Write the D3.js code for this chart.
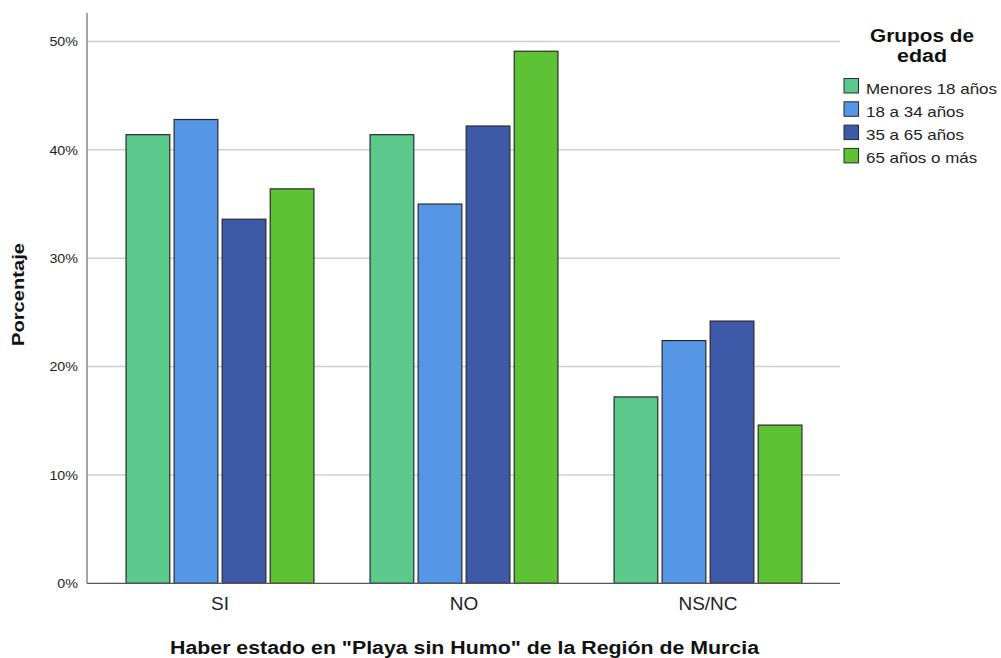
<!DOCTYPE html>
<html><head><meta charset="utf-8">
<script src="https://cdn.jsdelivr.net/npm/d3@7"></script>
<style>body{margin:0;background:#fff;}svg{display:block;font-family:"Liberation Sans",Arial,sans-serif;}</style>
</head><body><svg id="c" width="1001" height="658"></svg>
<script>
const categories = ["SI","NO","NS/NC"];
const seriesNames = ["Menores 18 años","18 a 34 años","35 a 65 años","65 años o más"];
const menores18 = [41.4, 41.4, 17.2];
const de18a34 = [42.8, 35.0, 22.4];
const de35a65 = [33.6, 42.2, 24.2];
const mas65 = [36.4, 49.1, 14.6];
const colors = ["#5bc98b","#5596e6","#3d59a8","#5ec235"];
const yTicks = [0,10,20,30,40,50];
const seriesValues = [menores18, de18a34, de35a65, mas65];

const svg = d3.select("#c");
const y = d3.scaleLinear().domain([0,50]).range([583.3,41.5]);
const x0 = d3.scaleBand().domain(categories).range([98,830]).paddingInner(0.23).paddingOuter(0.115);
const x1 = d3.scaleBand().domain(seriesNames).range([0,x0.bandwidth()]).paddingInner(0.09);

function stretch(sel, f){
  sel.each(function(){ const L=this.getComputedTextLength(); d3.select(this).attr("textLength",L*f).attr("lengthAdjust","spacingAndGlyphs"); });
}

// grid
svg.append("g").selectAll("line").data(yTicks.filter(d=>d>0)).join("line")
  .attr("x1",87).attr("x2",840).attr("y1",d=>y(d)).attr("y2",d=>y(d))
  .attr("stroke","#d0d0d0").attr("stroke-width",1.5);

// bars
const data = [];
categories.forEach((c,i)=>seriesNames.forEach((s,j)=>data.push({c,s,j,v:seriesValues[j][i]})));
svg.append("g").selectAll("rect").data(data).join("rect")
  .attr("x",d=>x0(d.c)+x1(d.s)).attr("width",x1.bandwidth())
  .attr("y",d=>y(d.v)).attr("height",d=>y(0)-y(d.v))
  .attr("fill",d=>colors[d.j]).attr("stroke","#2a2a2a").attr("stroke-width",1.2);

// y axis
const ya = svg.append("g").attr("transform","translate(87,0)")
  .call(d3.axisLeft(y).tickValues(yTicks).tickFormat(d=>d+"%").tickSize(0).tickPadding(9));
ya.select(".domain").remove();
ya.selectAll("text").attr("font-size",13).attr("fill","#222").attr("font-family","Liberation Sans, Arial, sans-serif");
stretch(ya.selectAll("text"), 1.1);
svg.append("line").attr("x1",87).attr("x2",87).attr("y1",13).attr("y2",583.3).attr("stroke","#888").attr("stroke-width",1.5);

// x axis
const xa = svg.append("g").attr("transform","translate(0,583.3)")
  .call(d3.axisBottom(x0).tickSize(0).tickPadding(14));
xa.select(".domain").attr("d","M87,0H840").attr("stroke","#555").attr("stroke-width",1.2);
xa.selectAll("text").attr("font-size",19).attr("fill","#222").attr("font-family","Liberation Sans, Arial, sans-serif").attr("dy","0.68em");
stretch(xa.selectAll("text"), 1.0);

// titles
const xt = svg.append("text").attr("x",464.5).attr("y",653.5).attr("text-anchor","middle")
  .attr("font-size",18).attr("font-weight","bold").attr("fill","#111")
  .text('Haber estado en "Playa sin Humo" de la Región de Murcia');
xt.attr("textLength",589).attr("lengthAdjust","spacingAndGlyphs");
svg.append("text").attr("transform","translate(24,294.5) rotate(-90)").attr("text-anchor","middle")
  .attr("font-size",17).attr("font-weight","bold").attr("fill","#111").text("Porcentaje")
  .attr("textLength",103).attr("lengthAdjust","spacingAndGlyphs");

// legend
const lg = svg.append("g");
lg.append("text").attr("x",922).attr("y",41.5).attr("text-anchor","middle").attr("font-size",18).attr("font-weight","bold").attr("fill","#111").text("Grupos de")
  .attr("textLength",104).attr("lengthAdjust","spacingAndGlyphs");
lg.append("text").attr("x",922).attr("y",61.5).attr("text-anchor","middle").attr("font-size",18).attr("font-weight","bold").attr("fill","#111").text("edad")
  .attr("textLength",50).attr("lengthAdjust","spacingAndGlyphs");
const items = lg.selectAll("g.it").data(seriesNames).join("g").attr("class","it")
  .attr("transform",(d,i)=>`translate(844,${78.5+i*23.3})`);
items.append("rect").attr("width",14.5).attr("height",14.5).attr("fill",(d,i)=>colors[i]).attr("stroke","#2a2a2a").attr("stroke-width",1);
const lt = items.append("text").attr("x",22).attr("y",15).attr("font-size",15).attr("fill","#222").text(d=>d);
stretch(lt, 1.13);
</script></body></html>
